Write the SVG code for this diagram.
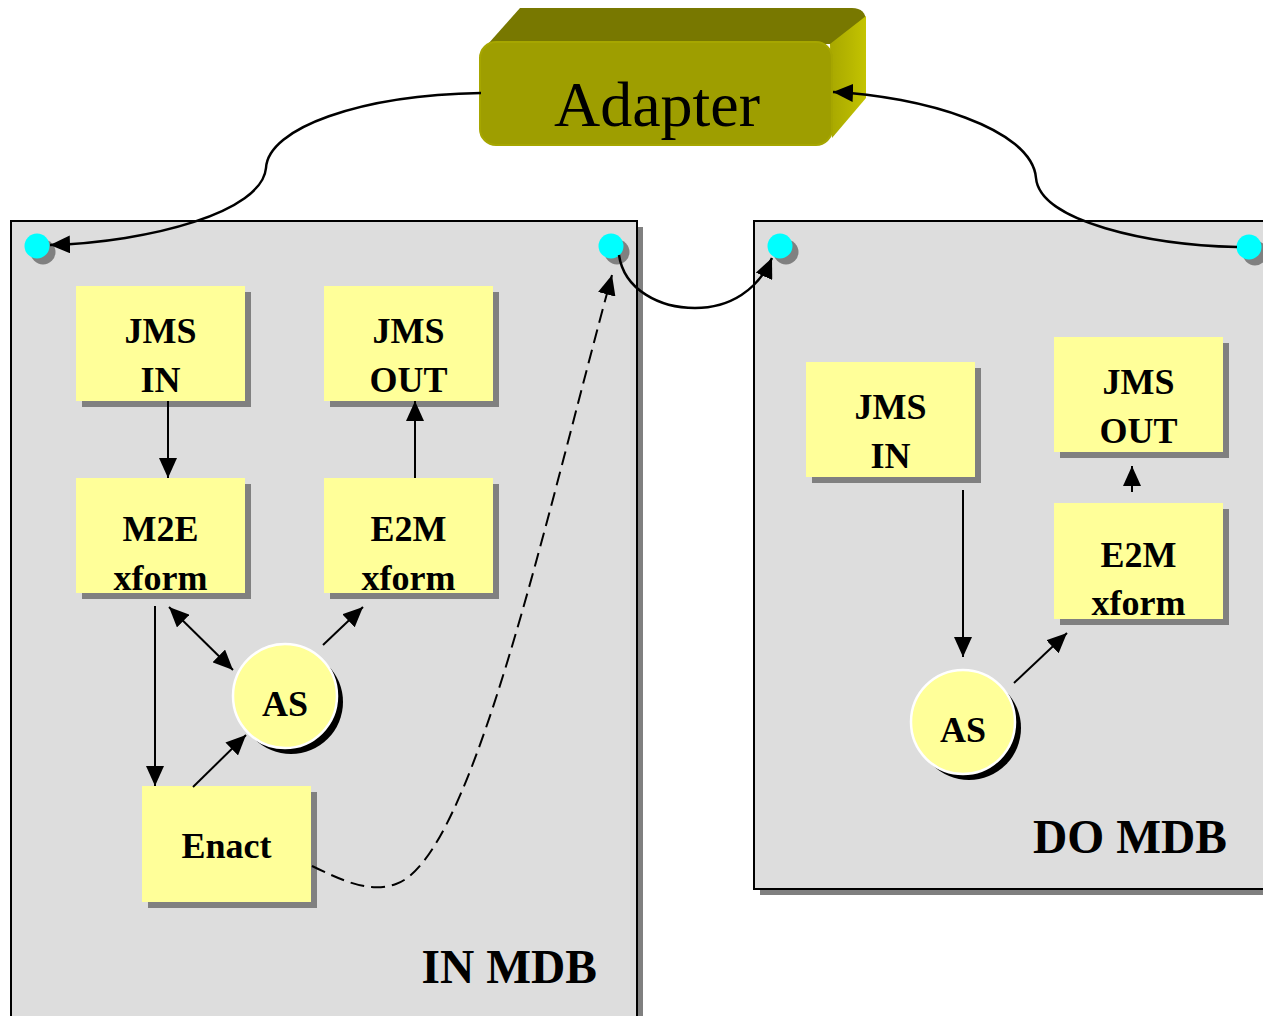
<svg xmlns="http://www.w3.org/2000/svg" width="1263" height="1016" viewBox="0 0 1263 1016">
  <style>
    .panel { fill: #DDDDDD; stroke: #000; stroke-width: 2; }
    .pshadow { fill: #808080; }
    .box { fill: #FFFF99; }
    .bshadow { fill: #808080; }
    .lbl { font-family: "Liberation Serif", "Times New Roman", serif; font-weight: bold; font-size: 36px; text-anchor: middle; fill: #000; }
    .title { font-family: "Liberation Serif", "Times New Roman", serif; font-weight: bold; font-size: 47.5px; text-anchor: end; fill: #000; }
    .port { fill: #00FFFF; }
    .portshadow { fill: #808080; }
    .as { fill: #FFFF99; stroke: #FFFFFF; stroke-width: 2.5; }
    .asshadow { fill: #000; }
    .arrow { fill: none; stroke: #000; stroke-width: 2; marker-end: url(#head); }
    .wire { fill: none; stroke: #000; stroke-width: 2.5; marker-end: url(#head); }
    .dashed { fill: none; stroke: #000; stroke-width: 2; stroke-dasharray: 14 7; marker-end: url(#head); }
  </style>
  <defs>
    <marker id="head" viewBox="0 0 20 18" refX="20" refY="9" markerWidth="20" markerHeight="18" markerUnits="userSpaceOnUse" orient="auto-start-reverse">
      <path d="M0,0 L20,9 L0,18 Z" fill="#000"/>
    </marker>
    <linearGradient id="side" x1="0" y1="0" x2="1" y2="0">
      <stop offset="0" stop-color="#A8A800"/>
      <stop offset="0.6" stop-color="#B8B800"/>
      <stop offset="1" stop-color="#C4C400"/>
    </linearGradient>
  </defs>

  <!-- IN MDB panel -->
  <g id="in-mdb">
    <rect class="pshadow" x="17" y="227" width="626" height="800"/>
    <rect class="panel" x="11" y="221" width="626" height="800"/>
    <text class="title" x="597" y="983">IN MDB</text>
  </g>

  <!-- DO MDB panel -->
  <g id="do-mdb">
    <rect class="pshadow" x="760" y="227" width="520" height="668"/>
    <rect class="panel" x="754" y="221" width="520" height="668"/>
    <text class="title" x="1227" y="853">DO MDB</text>
  </g>

  <!-- Adapter block -->
  <g id="adapter">
    <path d="M488,44 L520,8 L852,8 Q866,8 866,22 L832,44 Z" fill="#787800"/>
    <path d="M830,44 L866,16 L866,98 L832,138 Z" fill="url(#side)"/>
    <rect x="480" y="42" width="352" height="103" rx="16" fill="#9E9E00" stroke="#A6A600" stroke-width="2"/>
    <text x="657" y="126" font-family="'Liberation Serif', 'Times New Roman', serif" font-size="64" text-anchor="middle" fill="#000">Adapter</text>
  </g>

  <!-- ports -->
  <g id="port-in-left">
    <circle class="portshadow" cx="43" cy="252" r="12.5"/>
    <circle class="port" cx="37" cy="246" r="12.5"/>
  </g>
  <g id="port-in-right">
    <circle class="portshadow" cx="617" cy="252" r="12.5"/>
    <circle class="port" cx="611" cy="246" r="12.5"/>
  </g>
  <g id="port-do-left">
    <circle class="portshadow" cx="786" cy="252" r="12.5"/>
    <circle class="port" cx="780" cy="246" r="12.5"/>
  </g>
  <g id="port-do-right">
    <circle class="portshadow" cx="1255" cy="253" r="12.5"/>
    <circle class="port" cx="1249" cy="247" r="12.5"/>
  </g>

  <!-- IN MDB nodes -->
  <g id="in-jms-in">
    <rect class="bshadow" x="82" y="292" width="169" height="115"/>
    <rect class="box" x="76" y="286" width="169" height="115"/>
    <text class="lbl" x="160.5" y="343">JMS</text>
    <text class="lbl" x="160.5" y="392">IN</text>
  </g>
  <g id="in-jms-out">
    <rect class="bshadow" x="330" y="292" width="169" height="115"/>
    <rect class="box" x="324" y="286" width="169" height="115"/>
    <text class="lbl" x="408.5" y="343">JMS</text>
    <text class="lbl" x="408.5" y="392">OUT</text>
  </g>
  <g id="in-m2e">
    <rect class="bshadow" x="82" y="484" width="169" height="115"/>
    <rect class="box" x="76" y="478" width="169" height="115"/>
    <text class="lbl" x="160.5" y="541">M2E</text>
    <text class="lbl" x="160.5" y="590">xform</text>
  </g>
  <g id="in-e2m">
    <rect class="bshadow" x="330" y="484" width="169" height="115"/>
    <rect class="box" x="324" y="478" width="169" height="115"/>
    <text class="lbl" x="408.5" y="541">E2M</text>
    <text class="lbl" x="408.5" y="590">xform</text>
  </g>
  <g id="in-enact">
    <rect class="bshadow" x="148" y="792" width="169" height="116"/>
    <rect class="box" x="142" y="786" width="169" height="116"/>
    <text class="lbl" x="226.5" y="858">Enact</text>
  </g>
  <g id="in-as">
    <circle class="asshadow" cx="291" cy="702" r="52"/>
    <circle class="as" cx="285" cy="696" r="52"/>
    <text class="lbl" x="285" y="716">AS</text>
  </g>

  <!-- DO MDB nodes -->
  <g id="do-jms-in">
    <rect class="bshadow" x="812" y="368" width="169" height="115"/>
    <rect class="box" x="806" y="362" width="169" height="115"/>
    <text class="lbl" x="890.5" y="419">JMS</text>
    <text class="lbl" x="890.5" y="468">IN</text>
  </g>
  <g id="do-jms-out">
    <rect class="bshadow" x="1060" y="343" width="169" height="115"/>
    <rect class="box" x="1054" y="337" width="169" height="115"/>
    <text class="lbl" x="1138.5" y="394">JMS</text>
    <text class="lbl" x="1138.5" y="443">OUT</text>
  </g>
  <g id="do-e2m">
    <rect class="bshadow" x="1060" y="509" width="169" height="116"/>
    <rect class="box" x="1054" y="503" width="169" height="116"/>
    <text class="lbl" x="1138.5" y="567">E2M</text>
    <text class="lbl" x="1138.5" y="615">xform</text>
  </g>
  <g id="do-as">
    <circle class="asshadow" cx="969" cy="728" r="52"/>
    <circle class="as" cx="963" cy="722" r="52"/>
    <text class="lbl" x="963" y="742">AS</text>
  </g>

  <!-- connectors -->
  <g id="connectors">
    <!-- Adapter to IN MDB -->
    <path class="wire" d="M481,93 C360,95 268,128 266,168 C262,212 150,242 50,245"/>
    <!-- DO MDB back to Adapter -->
    <path class="wire" d="M1237,247 C1150,245 1040,222 1036,178 C1032,128 920,96 833,92"/>
    <!-- IN MDB to DO MDB -->
    <path class="wire" d="M619,255 C624,290 660,308 695,308 C730,308 758,290 772,258"/>
    <!-- Enact to IN MDB outgoing port (dashed) -->
    <path class="dashed" d="M312,866 C345,882 370,893 396,884 C472,858 545,520 612,275"/>

    <!-- inside IN MDB -->
    <path class="arrow" d="M168,401 L168,478"/>
    <path class="arrow" d="M415,478 L415,401"/>
    <path class="arrow" d="M155,606 L155,786"/>
    <path class="arrow" style="marker-start:url(#head)" d="M169,607 L233,670"/>
    <path class="arrow" d="M323,645 L363,607"/>
    <path class="arrow" d="M193,787 L246,735"/>

    <!-- inside DO MDB -->
    <path class="arrow" d="M963,490 L963,657"/>
    <path class="arrow" d="M1014,683 L1067,633"/>
    <path class="arrow" d="M1132,492 L1132,466"/>
  </g>
</svg>
